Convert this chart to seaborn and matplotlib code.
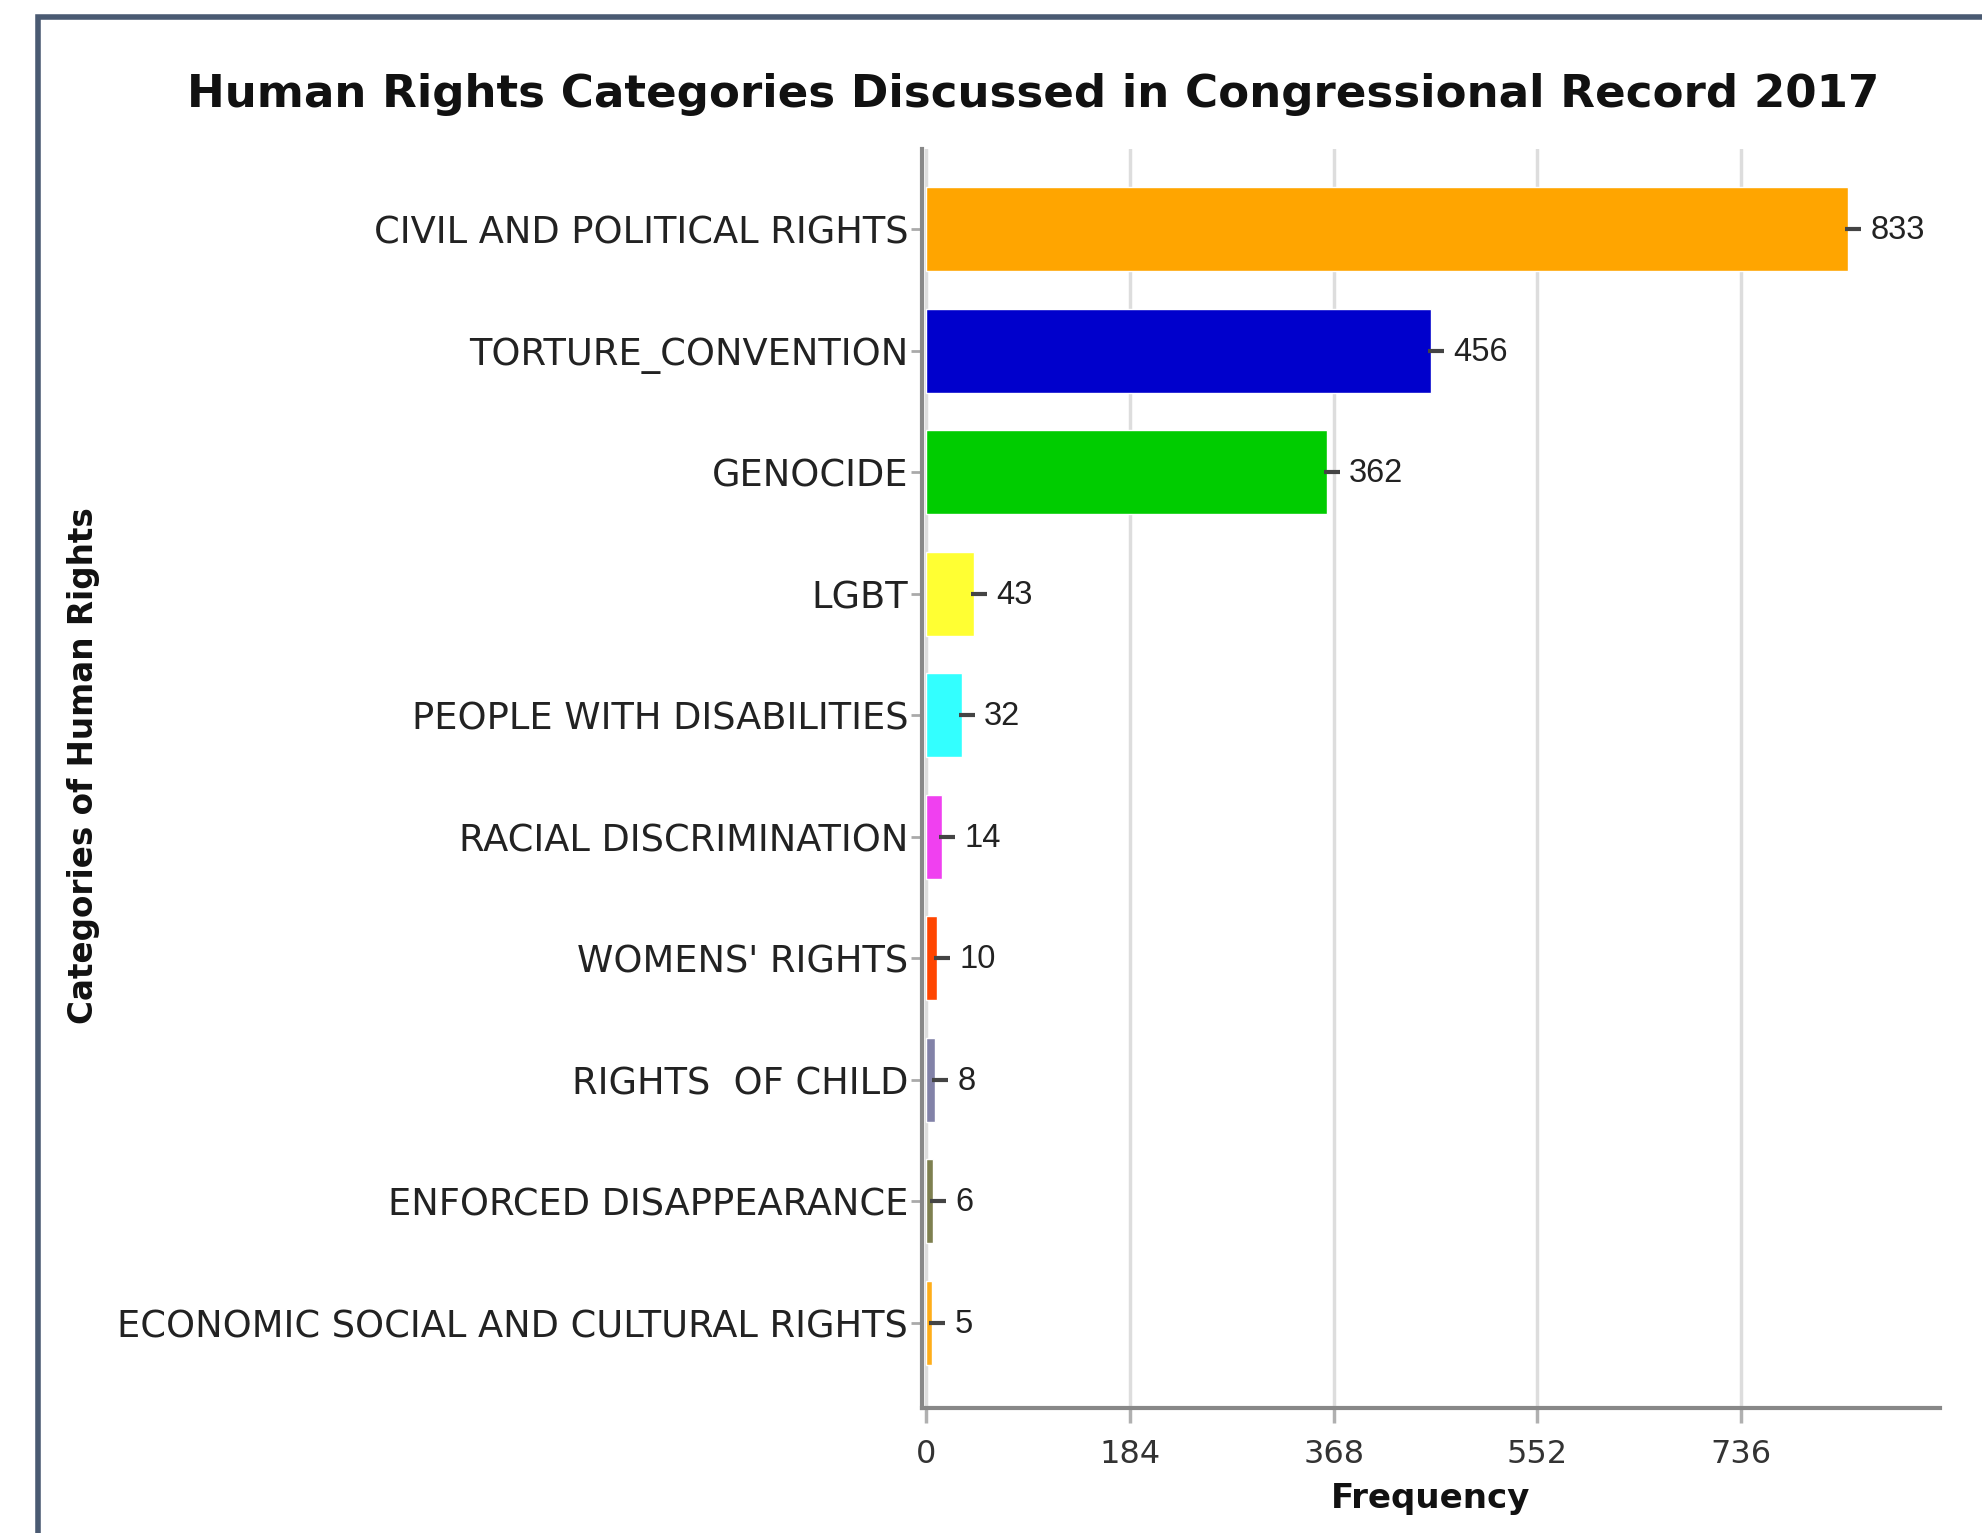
import matplotlib
matplotlib.use("Agg")
import matplotlib.pyplot as plt
import matplotlib.transforms as mtransforms
from matplotlib.patches import Rectangle
import seaborn as sns
import pandas as pd

categories = [
    "CIVIL AND POLITICAL RIGHTS",
    "TORTURE_CONVENTION",
    "GENOCIDE",
    "LGBT",
    "PEOPLE WITH DISABILITIES",
    "RACIAL DISCRIMINATION",
    "WOMENS' RIGHTS",
    "RIGHTS  OF CHILD",
    "ENFORCED DISAPPEARANCE",
    "ECONOMIC SOCIAL AND CULTURAL RIGHTS",
]
frequencies = [833, 456, 362, 43, 32, 14, 10, 8, 6, 5]
bar_colors = ["#FFA500", "#0000CC", "#00CC00", "#FFFF33", "#33FFFF",
              "#F040F0", "#FF4500", "#8282A8", "#7E8050", "#FFAE1A"]
x_ticks = [0, 184, 368, 552, 736]

title = "Human Rights Categories Discussed in Congressional Record 2017"
x_label = "Frequency"
y_label = "Categories of Human Rights"

df = pd.DataFrame({"category": categories, "frequency": frequencies})

sns.set_theme(style="white")
plt.rcParams["font.family"] = ["DejaVu Sans"]

W, H = 1983, 1533
fig = plt.figure(figsize=(W / 100, H / 100), dpi=100)
ax_left, ax_right, ax_top, ax_bottom = 922, 1940, 149, 1408
ax = fig.add_axes([ax_left / W, 1 - ax_bottom / H,
                   (ax_right - ax_left) / W, (ax_bottom - ax_top) / H])

sns.barplot(data=df, y="category", x="frequency", hue="category",
            palette=bar_colors, orient="h", width=0.69, legend=False,
            saturation=1, ax=ax, zorder=3)

ax.set_xlim(-4, 916)
ax.set_ylim(9.7, -0.66)
ax.set_xticks(x_ticks)
ax.set_xticklabels([str(t) for t in x_ticks], fontsize=23, color="#333333")
ax.tick_params(axis="y", labelsize=26.5, labelcolor="#222222", length=8,
               width=2, color="#aaaaaa", left=True, pad=2)
ax.xaxis.set_tick_params(which="major", bottom=True, length=11, width=2.5,
                         color="#b0b0b0", pad=11, direction="out")
ax.xaxis.grid(True, color="#dddddd", linewidth=2.5, zorder=0)
ax.yaxis.grid(False)
ax.set_axisbelow(True)

for s in ["top", "right"]:
    ax.spines[s].set_visible(False)
for s in ["left", "bottom"]:
    ax.spines[s].set_color("#888888")
    ax.spines[s].set_linewidth(3)
ax.spines["left"].set_position(("data", -4))

ax.set_xlabel(x_label, fontsize=24.5, fontweight="bold", color="#111111", labelpad=9)
ax.set_ylabel(y_label, fontsize=23.5, fontweight="bold", color="#111111")
ax.yaxis.set_label_coords(-(ax_left - 100) / (ax_right - ax_left), 0.51)

# value labels with small dash
dash_trans = ax.transData + mtransforms.ScaledTranslation(5.0 / 100, 0, fig.dpi_scale_trans)
for i, v in enumerate(frequencies):
    ax.plot([v], [i], marker="_", markersize=11, markeredgewidth=3,
            color="#444444", transform=dash_trans, zorder=4, clip_on=False)
    ax.annotate(str(v), xy=(v, i), xytext=(16, -1), textcoords="offset points",
                ha="left", va="center", fontsize=23.5, color="#222222",
                family=["Liberation Sans", "DejaVu Sans"])

fig.text(1033 / W, 1 - 95 / H, title, ha="center", va="center",
         fontsize=32.5, fontweight="bold", color="#111111")

# outer frame (extends beyond right/bottom)
fig.patches.append(Rectangle((38 / W, -0.05), 1.1, 1 - 17 / H + 0.05,
                             transform=fig.transFigure, fill=False,
                             edgecolor="#4A5A72", linewidth=4))

fig.savefig("out.png", dpi=100)
